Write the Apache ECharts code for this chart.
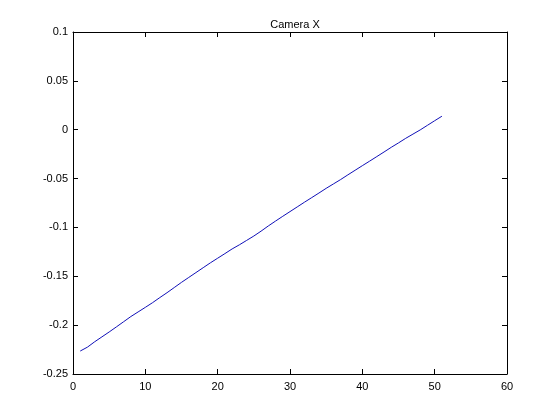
<!DOCTYPE html>
<html>
<head>
<meta charset="utf-8">
<script src="https://cdn.jsdelivr.net/npm/echarts@6/dist/echarts.min.js"></script>
<style>html,body{margin:0;padding:0;background:#fff}#c{width:560px;height:420px}</style>
</head>
<body>
<div id="c"></div>
<script>
const titleText = "Camera X";
const frames = [];
for (let i = 1; i <= 51; i++) frames.push(i);
const cameraX = [
  -0.2265, -0.2225, -0.2170, -0.2120, -0.2070, -0.2018, -0.1965, -0.1912, -0.1865, -0.1818,
  -0.1770, -0.1718, -0.1668, -0.1615, -0.1562, -0.1512, -0.1462, -0.1412, -0.1362, -0.1315,
  -0.1268, -0.1220, -0.1178, -0.1133, -0.1088, -0.1038, -0.0985, -0.0935, -0.0886, -0.0838,
  -0.0790, -0.0742, -0.0695, -0.0648, -0.0600, -0.0555, -0.0510, -0.0462, -0.0415, -0.0368,
  -0.0322, -0.0275, -0.0228, -0.0180, -0.0135, -0.0088, -0.0045, -0.0002, 0.0045, 0.0092,
  0.0138
];
const xMin = 0, xMax = 60, xStep = 10;
const yMin = -0.25, yMax = 0.1, yStep = 0.05;

const font = 'Liberation Sans, Arial, sans-serif';
const axisLine = {show: true, onZero: false, lineStyle: {color: '#000', width: 1}};
const tickIn = {show: true, inside: true, length: 5, lineStyle: {color: '#000'}};

const chart = echarts.init(document.getElementById('c'), null, {renderer: 'canvas'});
chart.setOption({
  animation: false,
  backgroundColor: '#fff',
  title: {
    text: titleText, left: 290, top: 14, textAlign: 'center',
    textStyle: {fontFamily: font, fontSize: 11, fontWeight: 'normal', color: '#000'}
  },
  grid: {left: 73, right: 53, top: 32, bottom: 46},
  xAxis: [
    {type: 'value', min: xMin, max: xMax, interval: xStep, position: 'bottom',
     axisLine: axisLine, axisTick: tickIn, splitLine: {show: false},
     axisLabel: {color: '#000', fontFamily: font, fontSize: 11, margin: 7}},
    {type: 'value', min: xMin, max: xMax, interval: xStep, position: 'top',
     axisLine: axisLine, axisTick: tickIn, splitLine: {show: false},
     axisLabel: {show: false}}
  ],
  yAxis: [
    {type: 'value', min: yMin, max: yMax, interval: yStep, position: 'left',
     axisLine: axisLine, axisTick: tickIn, splitLine: {show: false},
     axisLabel: {color: '#000', fontFamily: font, fontSize: 11, margin: 5,
       formatter: v => String(Math.round(v * 100) / 100)}},
    {type: 'value', min: yMin, max: yMax, interval: yStep, position: 'right',
     axisLine: axisLine, axisTick: tickIn, splitLine: {show: false},
     axisLabel: {show: false}}
  ],
  series: [{
    type: 'line', xAxisIndex: 0, yAxisIndex: 0,
    data: frames.map((f, i) => [f, cameraX[i]]),
    showSymbol: false, symbol: 'none',
    lineStyle: {color: '#1010b8', width: 1},
    silent: true
  }]
});
</script>
</body>
</html>
